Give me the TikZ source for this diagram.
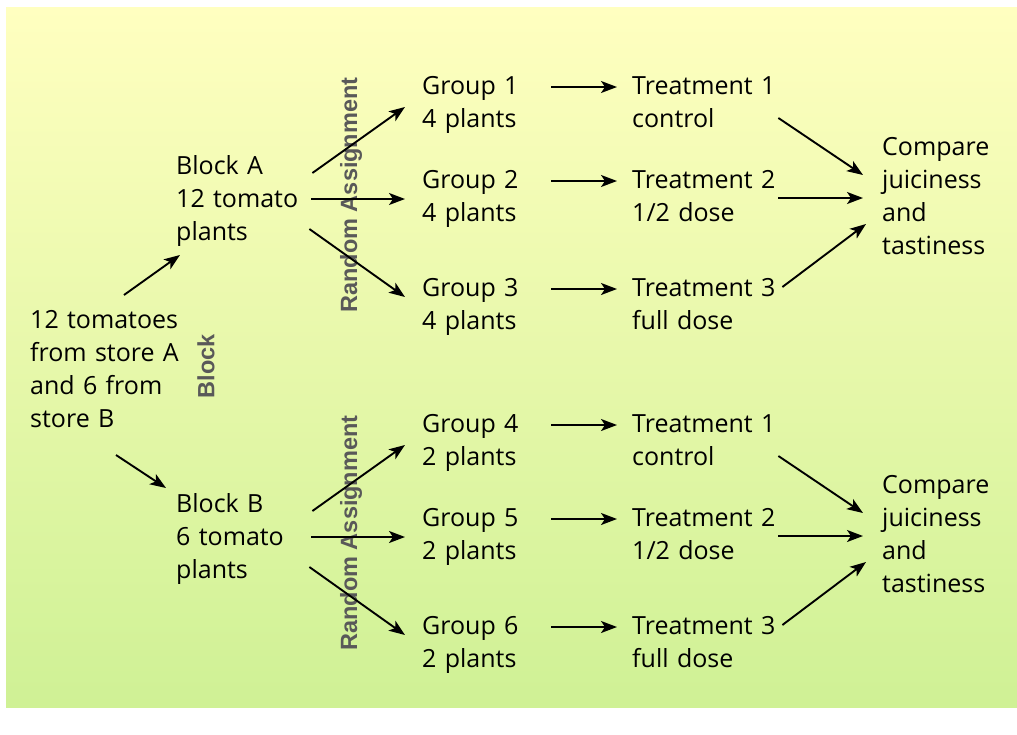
\documentclass[tikz,border=0pt]{standalone}
\usepackage{fontspec}
\newfontfamily\handfont{Open Sans}
\newfontfamily\labelfont{Liberation Sans}
\usetikzlibrary{calc,arrows.meta}
\definecolor{bgtop}{HTML}{FFFFC0}
\definecolor{bgbottom}{HTML}{CFF195}
\definecolor{labelgray}{HTML}{595959}

\begin{document}
\begin{tikzpicture}[x=1pt,y=-1pt,
    txt/.style={inner sep=0pt,anchor=base west,align=left,
      font=\handfont\fontsize{25}{33}\selectfont},
    lbl/.style={inner sep=0pt,rotate=90,text=labelgray,
      font=\labelfont\bfseries\fontsize{23.5}{27}\selectfont},
    arr/.style={-{Stealth[length=16pt,width=12pt,inset=4pt]},line width=1.9pt}]
  % background
  \useasboundingbox (0,0) rectangle (1017,734);
  \fill[white] (0,0) rectangle (1017,734);
  \shade[top color=bgtop,bottom color=bgbottom] (6,7) rectangle (1017,707);

  \node[txt,text width=155] (src) at (30,328) {12 tomatoes\\ from store A\\ and 6 from\\ store B};
  \node[lbl] (blocklbl) at (206,366) {Block};

  % two blocks, three groups each
  \foreach \blk/\nplant/\kplant/\off [count=\half from 0] in {A/12/4/0,B/6/2/338}{
    \node[txt,text width=125] (blk\blk) at (176,174+\off) {Block \blk\\ \nplant\ tomato\\ plants};
    \node[lbl] (rand\blk) at (351,195+\off) {Random Assignment};
    \node[txt,text width=130] (cmp\blk) at (882,155+\off) {Compare\\ juiciness\\ and\\ tastiness};
    \foreach \tnum/\dose/\gy [count=\i] in {1/control/94, 2/{1/2 dose}/188, 3/full dose/296}{
      \pgfmathtruncatemacro\g{3*\half+\i}
      \node[txt,text width=100] (grp\g) at (422,\gy+\off) {Group \g\\ \kplant\ plants};
      \node[txt,text width=146] (trt\g) at (632,\gy+\off) {Treatment \tnum\\ \dose};
      \draw[arr] ($(grp\g.base east)+(29,-7)$) -- ($(trt\g.base west)+(-15,-7)$);
    }
    \foreach \i/\sx/\sy/\ey in {1/11/-1/13, 2/10/25/11, 3/8/55/1}{
      \pgfmathtruncatemacro\g{3*\half+\i}
      \draw[arr] ($(blk\blk.base east)+(\sx,\sy)$) -- ($(grp\g.base west)+(-17,\ey)$);
    }
    \foreach \i/\sx/\sy/\ex/\ey in {1/0/24/-19/20, 2/0/10/-19/43, 3/4/-9/-16/69}{
      \pgfmathtruncatemacro\g{3*\half+\i}
      \draw[arr] ($(trt\g.base east)+(\sx,\sy)$) -- ($(cmp\blk.base west)+(\ex,\ey)$);
    }
  }

  \draw[arr] ($(src.base west)+(94,-33)$) -- ($(blkA.base west)+(4,81)$);
  \draw[arr] ($(src.base west)+(86,127)$) -- ($(blkB.base west)+(-10,-24)$);
\end{tikzpicture}
\end{document}
